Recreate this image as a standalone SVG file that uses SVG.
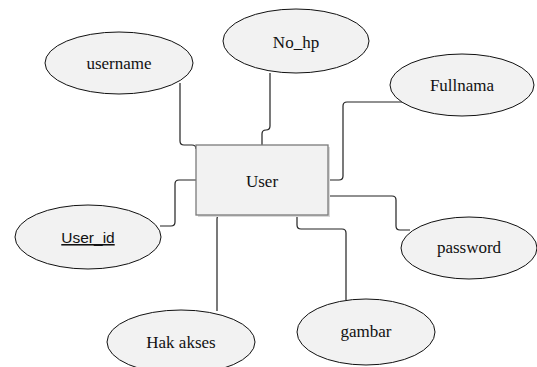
<svg xmlns="http://www.w3.org/2000/svg" width="537" height="367" viewBox="0 0 537 367">
<style>
.attr{fill:#f2f2f2;stroke:#111;stroke-width:1}
.lbl{font-family:"Liberation Serif","Times New Roman",serif;font-size:17px;fill:#111;text-anchor:middle}
.key{font-family:"Liberation Sans",Arial,sans-serif;font-size:15.5px;fill:#111;text-anchor:middle;text-decoration:underline}
.con{fill:none;stroke:#222;stroke-width:1.2}
</style>
<rect width="537" height="367" fill="#fff"/>
<g id="connectors">
<path class="con" d="M180,83 V141 Q180,145 184,145 H192 Q196,145 196,149"/>
<path class="con" d="M270,73 V126 Q270,130 266,130 Q262,130 262,134 V145"/>
<path class="con" d="M328,180 H339 Q343,180 343,176 V106 Q343,102 347,102 H404"/>
<path class="con" d="M328,196 H392 Q396,196 396,200 V226 Q396,230 400,230 H410" stroke="#555"/>
<path class="con" d="M297,215 V225 Q297,229 301,229 H342 Q346,229 346,233 V300"/>
<path class="con" d="M233,215 H221 Q217,215 217,219 V311"/>
<path class="con" d="M196,180 H179 Q175,180 175,184 V222 Q175,226 171,226 H160"/>
</g>
<g id="user">
<rect x="198" y="147" width="132" height="70" fill="#d9d9d9"/>
<rect x="196" y="145" width="132" height="70" fill="#f2f2f2" stroke="#7a7a7a" stroke-width="1.3"/>
<text class="lbl" x="262" y="187">User</text>
</g>
<g id="username">
<ellipse class="attr" cx="119" cy="63" rx="74" ry="31"/>
<text class="lbl" x="119" y="69">username</text>
</g>
<g id="no_hp">
<ellipse class="attr" cx="296" cy="41" rx="73" ry="32"/>
<text class="lbl" x="296" y="48">No_hp</text>
</g>
<g id="fullnama">
<ellipse class="attr" cx="462" cy="85" rx="72" ry="31"/>
<text class="lbl" x="462" y="91">Fullnama</text>
</g>
<g id="password">
<ellipse class="attr" cx="469" cy="248" rx="68" ry="31"/>
<text class="lbl" x="469" y="253">password</text>
</g>
<g id="gambar">
<ellipse class="attr" cx="366" cy="332" rx="69" ry="33"/>
<text class="lbl" x="366" y="337">gambar</text>
</g>
<g id="hak_akses">
<ellipse class="attr" cx="181" cy="342" rx="74" ry="32"/>
<text class="lbl" x="181" y="348">Hak akses</text>
</g>
<g id="user_id">
<ellipse class="attr" cx="88" cy="237" rx="73" ry="32"/>
<text class="key" x="88" y="243">User_id</text>
</g>
</svg>
